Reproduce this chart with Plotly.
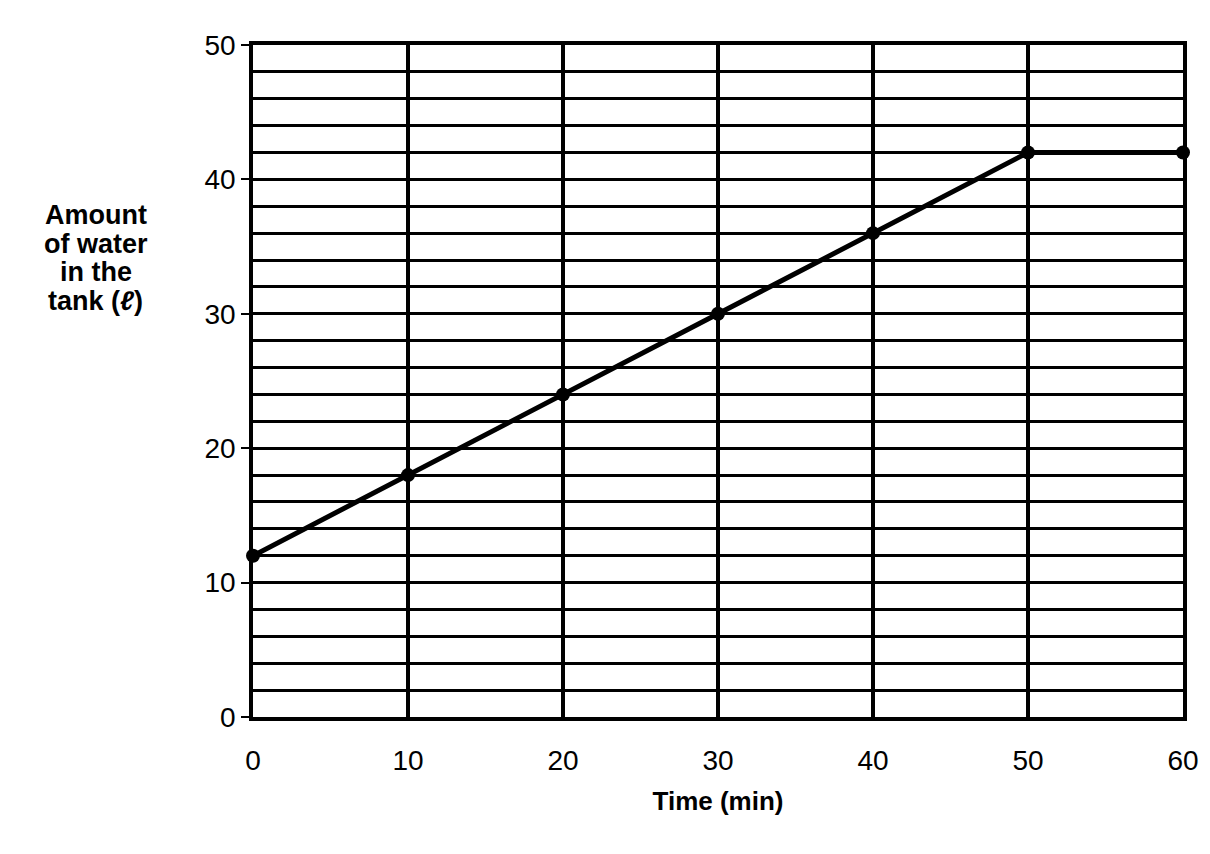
import plotly.graph_objects as go

# time in minutes and water in the tank (litres)
time_min = [0, 10, 20, 30, 40, 50, 60]
water_l = [12, 18, 24, 30, 36, 42, 42]

x_ticks = [0, 10, 20, 30, 40, 50, 60]
y_ticks = [0, 10, 20, 30, 40, 50]

y_title_lines = ["Amount", "of water", "in the", "tank (<i>ℓ</i>)"]

FONT = "Liberation Sans, Arial"

fig = go.Figure()
fig.add_trace(go.Scatter(
    x=time_min, y=water_l, mode="lines+markers",
    line=dict(color="black", width=5),
    marker=dict(color="black", size=14),
    cliponaxis=False, showlegend=False,
))

fig.update_xaxes(
    range=[0, 60], tickvals=x_ticks, showgrid=True, gridcolor="black", gridwidth=3.5,
    showline=True, linecolor="black", linewidth=3.5, mirror=True,
    ticks="", ticklabelstandoff=16, zeroline=False,
    tickfont=dict(family=FONT, size=28, color="black"),
    title=dict(text="<b>Time (min)</b>", standoff=17,
               font=dict(family=FONT, size=26, color="black")),
)
fig.update_yaxes(
    range=[0, 50], tickvals=y_ticks, showgrid=True, gridcolor="black", gridwidth=2.5,
    minor=dict(dtick=2, showgrid=True, gridcolor="black", gridwidth=2.5),
    showline=True, linecolor="black", linewidth=3.5, mirror=True,
    ticks="outside", ticklen=8, tickwidth=2, tickcolor="black", zeroline=False,
    tickfont=dict(family=FONT, size=28, color="black"),
)

# y title written horizontally, one line per annotation for tight spacing
for i, line in enumerate(y_title_lines):
    fig.add_annotation(
        text="<b>" + line + "</b>",
        xref="paper", yref="paper", x=-0.169, y=0.747, yshift=-28.5 * i,
        showarrow=False, xanchor="center", yanchor="middle",
        font=dict(family=FONT, size=27, color="black"),
    )

fig.update_layout(
    width=1202, height=846,
    margin=dict(l=245, r=27, t=37, b=137),
    plot_bgcolor="white", paper_bgcolor="white",
)

fig.write_html("out.html")
